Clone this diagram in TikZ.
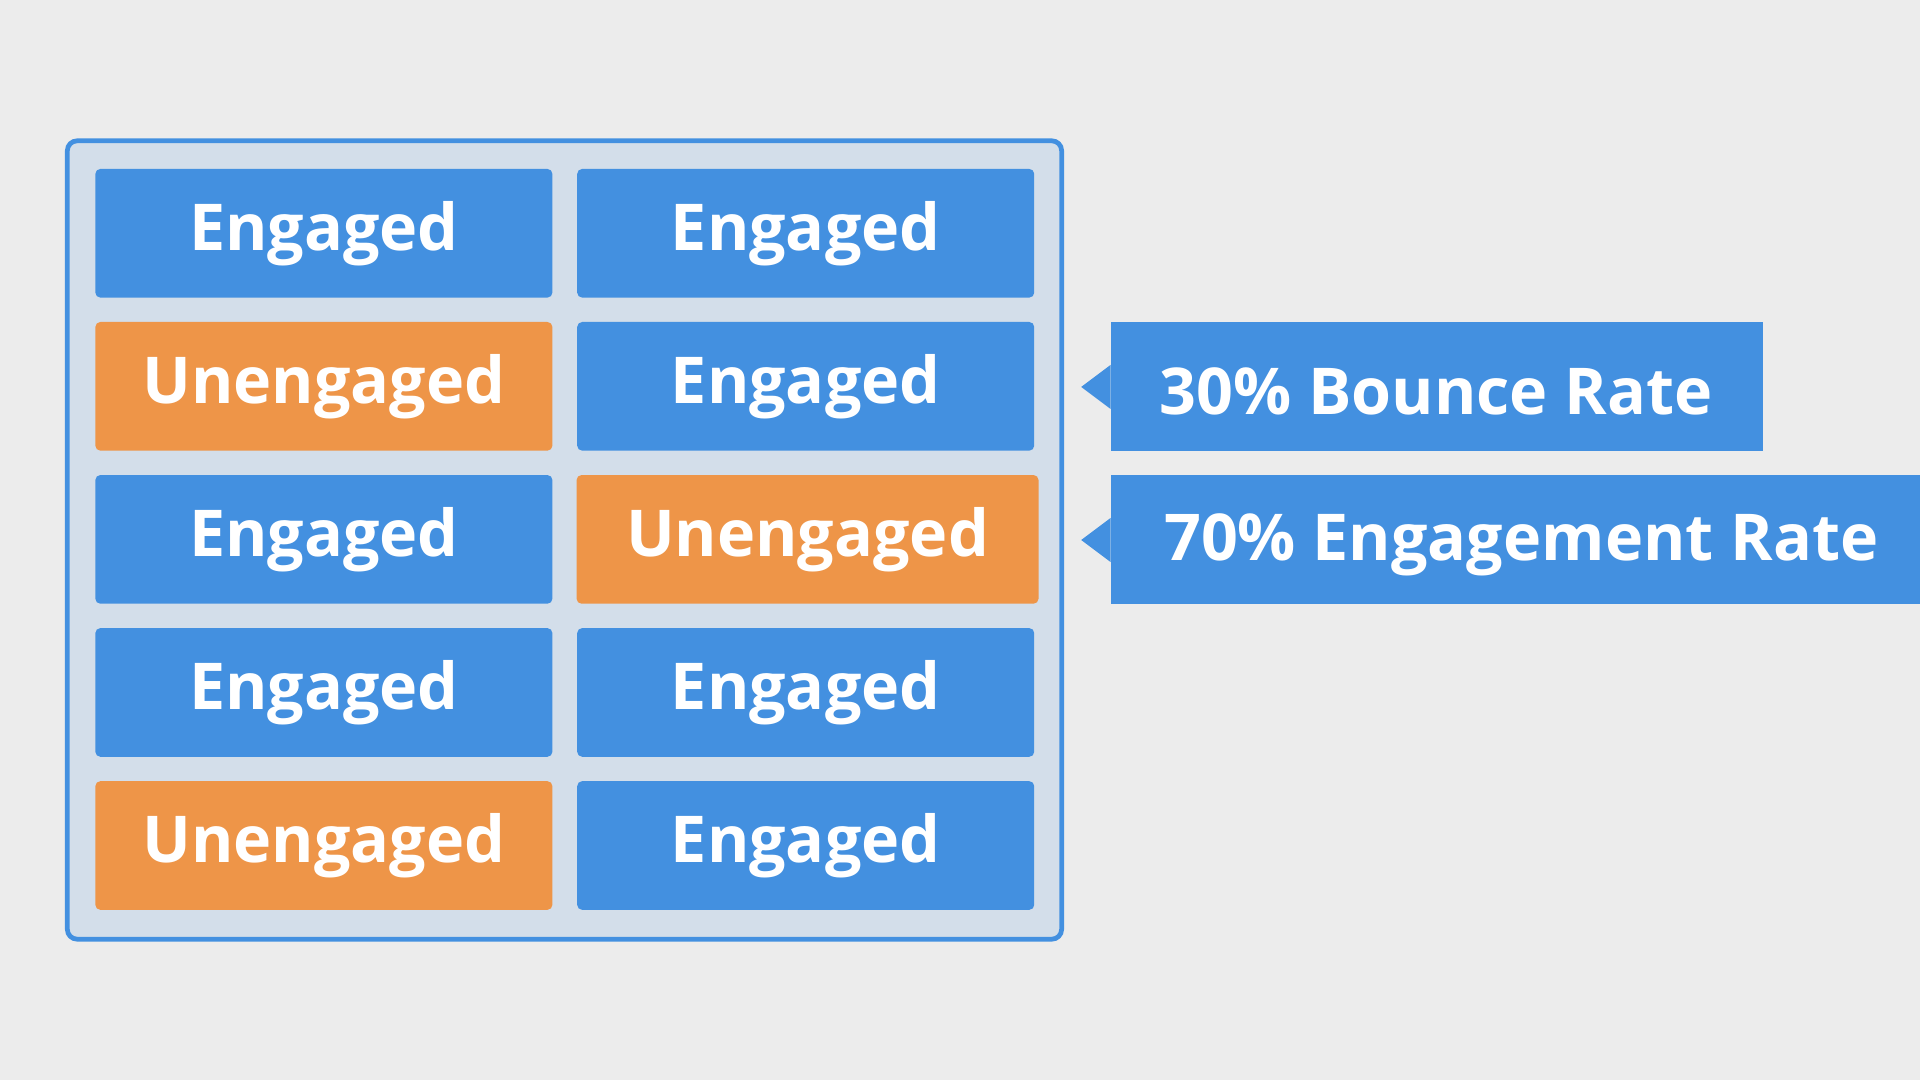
\documentclass[tikz,border=0pt]{standalone}
\usepackage{fontspec}
\setmainfont{Open Sans}
\usepackage{tikz}
\usetikzlibrary{calc}
\definecolor{engblue}{HTML}{4390E0}
\definecolor{unorange}{HTML}{EE9548}
\definecolor{framefill}{HTML}{D3DEEA}
\definecolor{bggrey}{HTML}{ECECEC}
\tikzset{
  label text/.style={text=white, font=\fontsize{15}{17}\selectfont\bfseries},
  cell/.style={label text, minimum width=3.73cm, minimum height=1.05cm, inner sep=0pt,
    rounded corners=0.04cm},
  eng/.style={cell, fill=engblue},
  uneng/.style={cell, fill=unorange},
}
\def\engnode{\node[eng]}
\def\unnode{\node[uneng]}

\begin{document}
\begin{tikzpicture}[x=0.01cm,y=-0.01cm]
\fill[bggrey] (0,0) rectangle (1568,882);
\useasboundingbox (0,0) rectangle (1568,882);

% frame around the grid
\draw[engblue, line width=1.1pt, fill=framefill, rounded corners=0.08cm] (55,115) rectangle (867,767);

% left column
\engnode (a1) at (264.5,190.5) {\raisebox{-0.6ex}{Engaged}};
\unnode  (a2) at (264.5,315.5) {\raisebox{-0.6ex}{Unengaged}};
\engnode (a3) at (264.5,440.5) {\raisebox{-0.6ex}{Engaged}};
\engnode (a4) at (264.5,565.5) {\raisebox{-0.6ex}{Engaged}};
\unnode  (a5) at (264.5,690.5) {\raisebox{-0.6ex}{Unengaged}};

% right column
\engnode (b1) at (658,190.5) {\raisebox{-0.6ex}{Engaged}};
\engnode (b2) at (658,315.5) {\raisebox{-0.6ex}{Engaged}};
\node[uneng, minimum width=3.77cm] (b3) at (659.5,440.5) {\raisebox{-0.6ex}{Unengaged}};
\engnode (b4) at (658,565.5) {\raisebox{-0.6ex}{Engaged}};
\engnode (b5) at (658,690.5) {\raisebox{-0.6ex}{Engaged}};

% callouts
\fill[engblue] (907,263) rectangle (1440,368);
\fill[engblue] (907,298) -- (883,316) -- (907,334) -- cycle;
\node[label text] (bounce) at (1173,320) {30\% Bounce Rate};

\fill[engblue] (907,388) rectangle (1568,493);
\fill[engblue] (907,423) -- (883,441) -- (907,459) -- cycle;
\node[label text, anchor=west, inner sep=0pt] (engage) at (950,445) {70\% Engagement Rate};
\end{tikzpicture}
\end{document}
